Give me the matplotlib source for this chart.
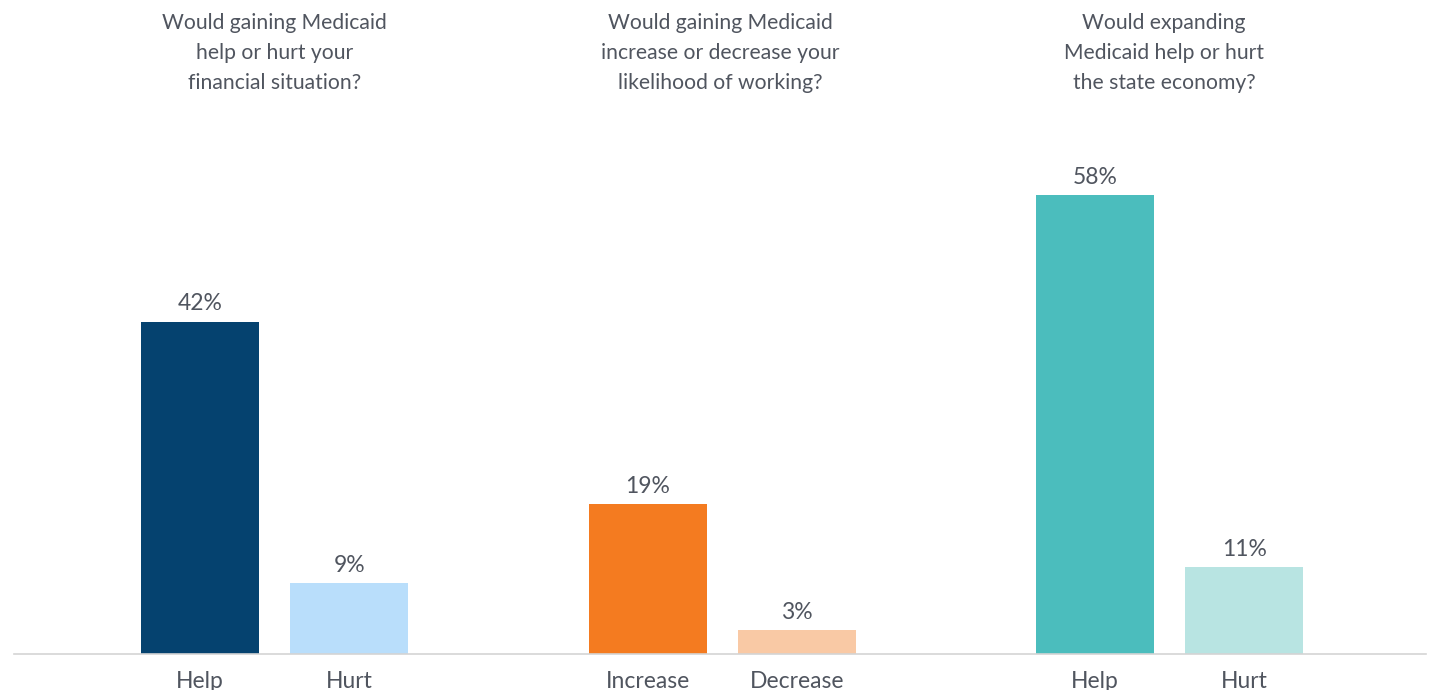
import matplotlib.pyplot as plt
import matplotlib.transforms as mtransforms

# Survey answers, three questions with two answers each
questions = [
    "Would gaining Medicaid\nhelp or hurt your\nfinancial situation?",
    "Would gaining Medicaid\nincrease or decrease your\nlikelihood of working?",
    "Would expanding\nMedicaid help or hurt\nthe state economy?",
]
answers = ["Help", "Hurt", "Increase", "Decrease", "Help", "Hurt"]
values = [42, 9, 19, 3, 58, 11]
colors = ["#05426f", "#b9defb", "#f47b20", "#f9c9a5", "#4bbdbd", "#b8e4e2"]

positions = [0, 1, 3, 4, 6, 7]
title_x = [0.5, 3.49, 6.46]
text_color = "#50555f"

plt.rcParams['font.family'] = ['Lato', 'DejaVu Sans']

fig = plt.figure(figsize=(14.34, 6.9), dpi=100)
ax = fig.add_axes([14 / 1434, 36 / 690, 1412 / 1434, 554 / 690])

ax.bar(positions, values, width=0.79, color=colors)

for x, v in zip(positions, values):
    ax.text(x, v + 0.9, f"{v}%", ha='center', va='bottom', fontsize=16.5, color=text_color)

ax.set_xlim(-1.247, 8.217)
ax.set_ylim(0, 70)
ax.set_xticks(positions)
ax.set_xticklabels(answers, fontsize=16.5, color=text_color)
ax.tick_params(axis='x', length=0, pad=12)
ax.set_yticks([])

for side in ['top', 'right', 'left']:
    ax.spines[side].set_visible(False)
ax.spines['bottom'].set_color('#d4d4d4')
ax.spines['bottom'].set_linewidth(1.2)

# question titles above each pair
trans = mtransforms.blended_transform_factory(ax.transData, fig.transFigure)
for tx, q in zip(title_x, questions):
    ax.text(tx, 1 - 13 / 690, q, transform=trans, ha='center', va='top',
            fontsize=15.2, color=text_color, linespacing=1.62)

plt.savefig('out.png', dpi=100)
